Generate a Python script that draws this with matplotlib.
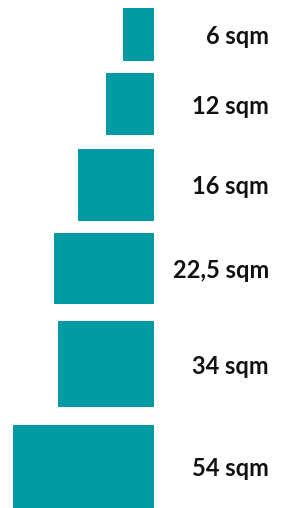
import matplotlib.pyplot as plt
from matplotlib.patches import Rectangle

# room sizes, drawn as boxes (width x depth in chart units)
labels = ['6 sqm', '12 sqm', '16 sqm', '22,5 sqm', '34 sqm', '54 sqm']
widths = [31, 48, 76, 100, 96, 141]
depths = [53, 62, 72, 71, 86, 83]

teal = '#029ba3'
right = 154
gaps = [12.3, 13.4, 12.6, 16.7, 17.6, 0]
top = 8

fig = plt.figure(figsize=(2.94, 5.08), dpi=100)
ax = fig.add_axes([0, 0, 1, 1])
ax.set_xlim(0, 294)
ax.set_ylim(508, 0)
ax.axis('off')

y = top
for lab, w, d, g in zip(labels, widths, depths, gaps):
    ax.add_patch(Rectangle((right - w, y), w, d, facecolor=teal, edgecolor='none'))
    ax.text(269, y + d / 2 + 2, lab, ha='right', va='center',
            fontsize=17, fontweight='bold', family='Lato', color='#111111')
    y += d + g

fig.savefig('out.png', dpi=100)
